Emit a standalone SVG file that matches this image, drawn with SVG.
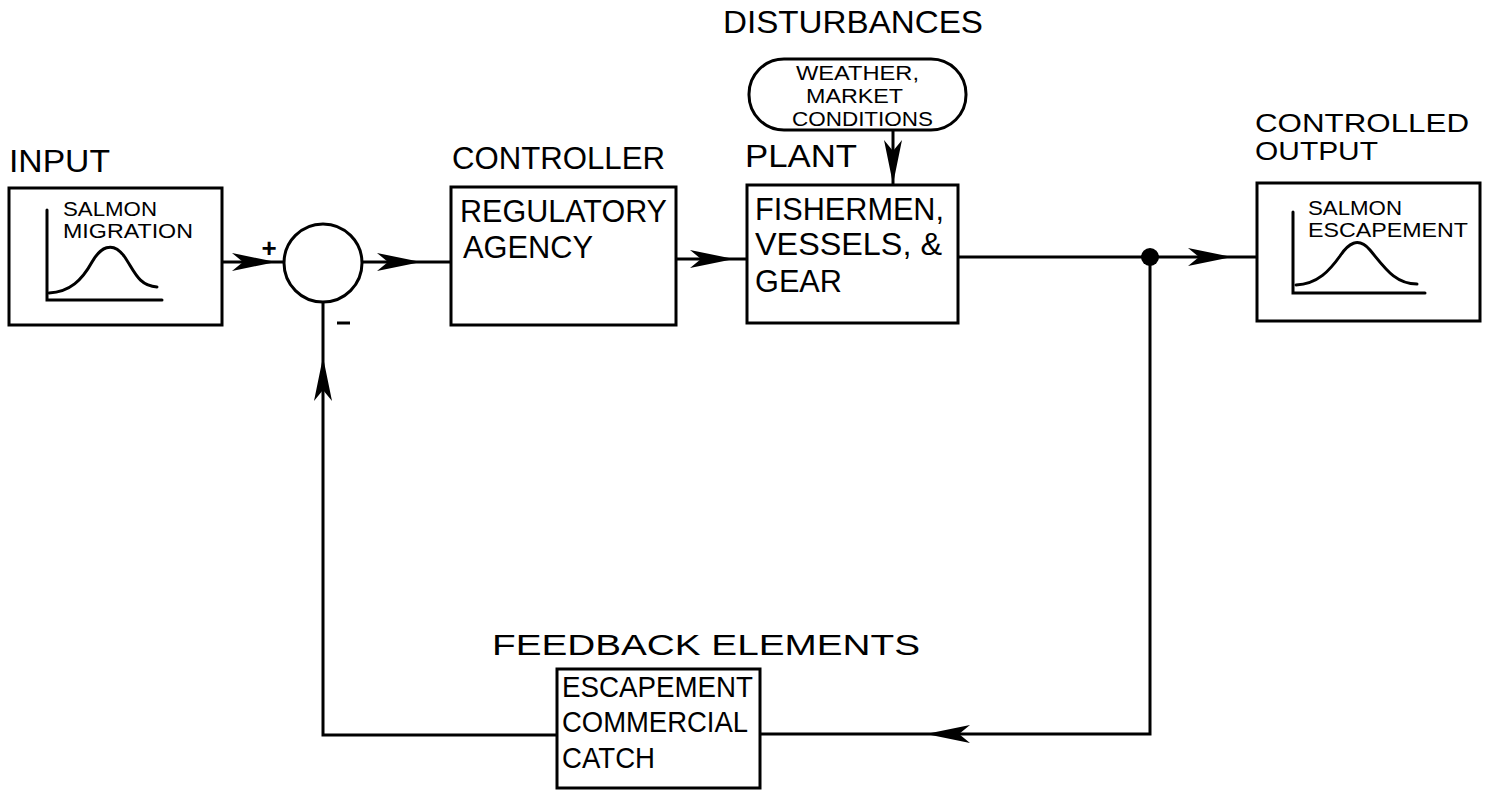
<svg xmlns="http://www.w3.org/2000/svg" xmlns:xlink="http://www.w3.org/1999/xlink" width="1486" height="791" viewBox="0 0 1486 791">
<style>
  .bx { fill: none; stroke: #000; stroke-width: 3; }
  .ln { fill: none; stroke: #000; stroke-width: 3; }
  .cv { fill: none; stroke: #000; stroke-width: 3; stroke-linecap: round; }
  text { font-family: "Liberation Sans", Arial, sans-serif; fill: #000; }
  .lg { font-size: 31px; }
  .lt { font-size: 26px; }
  .md { font-size: 30px; }
  .sm { font-size: 21px; }
  .xs { font-size: 20px; }
  .sg { font-size: 26px; font-weight: bold; }
</style>
<defs>
  <path id="arr" d="M0,0 L-44,-9 L-33,0 L-44,9 Z" fill="#000"/>
</defs>
<rect width="1486" height="791" fill="#fff"/>

<g id="connectors">
  <line class="ln" x1="222" y1="262" x2="284" y2="262"/>
  <use xlink:href="#arr" transform="translate(276,262)"/>
  <line class="ln" x1="362" y1="262" x2="451" y2="262"/>
  <use xlink:href="#arr" transform="translate(421,262)"/>
  <line class="ln" x1="676" y1="259" x2="747" y2="259"/>
  <use xlink:href="#arr" transform="translate(734,259)"/>
  <line class="ln" x1="893" y1="130" x2="893" y2="185"/>
  <use xlink:href="#arr" transform="translate(893,184) rotate(90)"/>
  <line class="ln" x1="958" y1="257" x2="1257" y2="257"/>
  <use xlink:href="#arr" transform="translate(1232,257)"/>
  <circle cx="1150" cy="257" r="9" fill="#000"/>
  <polyline class="ln" points="1150,257 1150,734 760,734"/>
  <use xlink:href="#arr" transform="translate(926,734) rotate(180)"/>
  <polyline class="ln" points="557,735 323,735 323,301"/>
  <use xlink:href="#arr" transform="translate(323,357) rotate(-90)"/>
</g>

<g id="input">
  <text class="lg" x="9" y="172" textLength="101" lengthAdjust="spacingAndGlyphs">INPUT</text>
  <rect class="bx" x="9" y="188" width="213" height="137"/>
  <text class="sm" x="63" y="216" textLength="94" lengthAdjust="spacingAndGlyphs">SALMON</text>
  <text class="sm" x="63" y="238" textLength="130" lengthAdjust="spacingAndGlyphs">MIGRATION</text>
  <polyline class="cv" points="47,210 47,300 162,300"/>
  <path class="cv" d="M49,293 C70,292 82,280 92,262 C100,248 112,240 124,256 C134,270 138,286 157,287"/>
</g>

<g id="summing-junction">
  <circle class="bx" cx="323" cy="263" r="39"/>
  <text class="sg" x="269" y="257" text-anchor="middle">+</text>
  <line class="ln" x1="337" y1="323" x2="350" y2="323" stroke-width="4"/>
</g>

<g id="controller">
  <text class="lg" x="452" y="169" textLength="213" lengthAdjust="spacingAndGlyphs">CONTROLLER</text>
  <rect class="bx" x="451" y="187" width="225" height="138"/>
  <text class="lg" x="460" y="222" textLength="207" lengthAdjust="spacingAndGlyphs">REGULATORY</text>
  <text class="lg" x="463" y="258" textLength="130" lengthAdjust="spacingAndGlyphs">AGENCY</text>
</g>

<g id="disturbances">
  <text class="lg" x="723" y="33" textLength="260" lengthAdjust="spacingAndGlyphs">DISTURBANCES</text>
  <rect class="bx" x="749" y="59" width="217" height="71" rx="35" ry="35"/>
  <text class="xs" x="796" y="80" textLength="123" lengthAdjust="spacingAndGlyphs">WEATHER,</text>
  <text class="xs" x="806" y="103" textLength="97" lengthAdjust="spacingAndGlyphs">MARKET</text>
  <text class="xs" x="792" y="126" textLength="141" lengthAdjust="spacingAndGlyphs">CONDITIONS</text>
</g>

<g id="plant">
  <text class="lg" x="745" y="167" textLength="112" lengthAdjust="spacingAndGlyphs">PLANT</text>
  <rect class="bx" x="747" y="185" width="211" height="138"/>
  <text class="lg" x="755" y="220" textLength="189" lengthAdjust="spacingAndGlyphs">FISHERMEN,</text>
  <text class="lg" x="755" y="255" textLength="187" lengthAdjust="spacingAndGlyphs">VESSELS, &amp;</text>
  <text class="lg" x="755" y="292" textLength="87" lengthAdjust="spacingAndGlyphs">GEAR</text>
</g>

<g id="output">
  <text class="lt" x="1255" y="132" textLength="214" lengthAdjust="spacingAndGlyphs">CONTROLLED</text>
  <text class="lt" x="1255" y="160" textLength="123" lengthAdjust="spacingAndGlyphs">OUTPUT</text>
  <rect class="bx" x="1257" y="183" width="223" height="138"/>
  <text class="sm" x="1308" y="215" textLength="94" lengthAdjust="spacingAndGlyphs">SALMON</text>
  <text class="sm" x="1308" y="237" textLength="160" lengthAdjust="spacingAndGlyphs">ESCAPEMENT</text>
  <polyline class="cv" points="1293,212 1293,293 1425,293"/>
  <path class="cv" d="M1296,285 C1318,284 1330,270 1340,256 C1348,244 1358,236 1370,250 C1385,268 1395,284 1417,284"/>
</g>

<g id="feedback">
  <text class="md" x="492" y="655" textLength="428" lengthAdjust="spacingAndGlyphs">FEEDBACK ELEMENTS</text>
  <rect class="bx" x="557" y="669" width="203" height="119"/>
  <text class="md" x="562" y="697" textLength="191" lengthAdjust="spacingAndGlyphs">ESCAPEMENT</text>
  <text class="md" x="562" y="732" textLength="186" lengthAdjust="spacingAndGlyphs">COMMERCIAL</text>
  <text class="md" x="562" y="768" textLength="93" lengthAdjust="spacingAndGlyphs">CATCH</text>
</g>
</svg>
